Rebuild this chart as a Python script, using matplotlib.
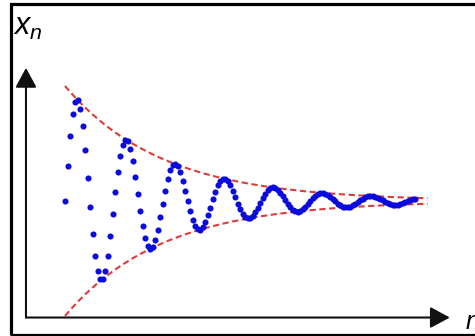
import numpy as np
import matplotlib
matplotlib.use('Agg')
import matplotlib.pyplot as plt
from matplotlib.patches import Rectangle

# damped oscillating sequence x_n = A * r^n * sin(w * n)
n_values = np.arange(0, 141)
amplitude = 1.0
ratio = 0.9746
omega = 0.3206
envelope_n = np.linspace(0, 145, 200)

x_values = amplitude * ratio ** n_values * np.sin(omega * n_values)
upper_env = amplitude * ratio ** envelope_n
lower_env = -upper_env

plt.rcParams['mathtext.fontset'] = 'custom'
plt.rcParams['mathtext.it'] = 'Liberation Sans:italic'
plt.rcParams['mathtext.rm'] = 'Liberation Sans'

fig = plt.figure(figsize=(4.75, 3.36), dpi=100)
ax = fig.add_axes([0, 0, 1, 1])
ax.set_xlim(-26, 164)
ax.set_ylim(-1.174, 1.748)
ax.axis('off')

ax.plot(envelope_n, upper_env, color='#dc3c3c', lw=1.5, dashes=(3, 1.7))
ax.plot(envelope_n, lower_env, color='#dc3c3c', lw=1.5, dashes=(3, 1.7))
ax.plot(n_values, x_values, 'o', color='#0a0adc', ms=4.4, mec='none')

# axes drawn as arrows
arrow = dict(arrowstyle='-|>,head_length=12,head_width=6.5', color='#111111',
             lw=1.5, mutation_scale=1, shrinkA=0, shrinkB=0)
ax.annotate('', xy=(0.0547, 0.798), xytext=(0.0547, 0.055),
            xycoords='axes fraction', textcoords='axes fraction', arrowprops=arrow)
ax.annotate('', xy=(0.947, 0.055), xytext=(0.0547, 0.055),
            xycoords='axes fraction', textcoords='axes fraction', arrowprops=arrow)

fig.text(13 / 475, 1 - 35 / 336, r'$x_n$', fontsize=22, ha='left', va='baseline')
fig.text(466 / 475, 1 - 329 / 336, 'n', fontsize=18, style='italic',
         family='Liberation Sans', ha='left', va='baseline')

# frame around the picture
fig.patches.append(Rectangle((11 / 475, 1.5 / 336), 1.2, 1 - 5 / 336,
                             transform=fig.transFigure, fill=False,
                             lw=2.3, ec='black', zorder=10))

fig.savefig('out.png', dpi=100)
